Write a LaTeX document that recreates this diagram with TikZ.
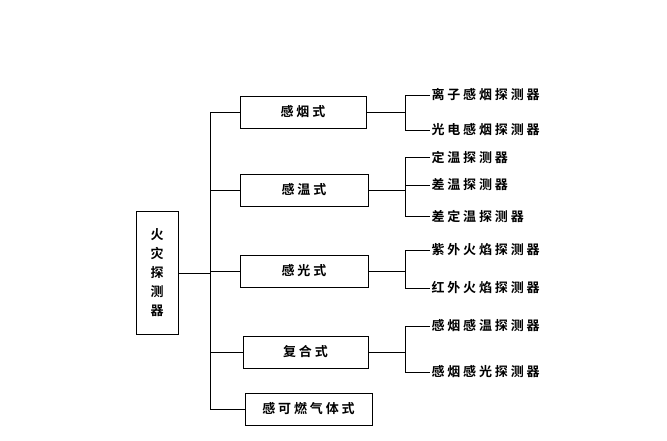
\documentclass[tikz,border=0pt]{standalone}
\usepackage{fontspec}
\setmainfont{Noto Sans CJK SC}[BoldFont={Noto Sans CJK SC Bold}]
\newfontfamily\spc{Noto Sans CJK SC Bold}[LetterSpace=22]
\begin{document}
\begin{tikzpicture}[x=1pt,y=-1pt,line width=1pt,
 box/.style={draw,minimum height=32pt,inner sep=0pt,font=\spc\fontsize{13}{15}\selectfont},
 leaf/.style={anchor=west,inner sep=1pt,font=\spc\fontsize{13}{14}\selectfont}]
\useasboundingbox (0,0) rectangle (667,440);
\node[draw,minimum width=42pt,minimum height=123pt,align=center,font=\bfseries\fontsize{13}{19}\selectfont] (root) at (157,273) {火\\灾\\探\\测\\器};
\node[box,minimum width=126pt] (a) at (303,112) {感烟式};
\node[box,minimum width=128pt] (b) at (304,190) {感温式};
\node[box,minimum width=128pt] (c) at (304,271) {感光式};
\node[box,minimum width=125pt] (d) at (305.5,352) {复合式};
\node[box,minimum width=127pt] (e) at (308.5,409) {感可燃气体式};
\coordinate (t) at (210,112); \coordinate (bt) at (210,409);
\draw (t) -- (bt);
\draw (root.east) -- (root.east -| t);
\foreach \n in {a,b,c,d,e} \draw (\n.west -| t) -- (\n.west);
\node[leaf] (a1) at (430,95) {离子感烟探测器};
\node[leaf] (a2) at (430,130) {光电感烟探测器};
\node[leaf] (b1) at (430,157) {定温探测器};
\node[leaf] (b2) at (430,185) {差温探测器};
\node[leaf] (b3) at (430,216) {差定温探测器};
\node[leaf] (c1) at (430,250) {紫外火焰探测器};
\node[leaf] (c2) at (430,288) {红外火焰探测器};
\node[leaf] (d1) at (430,326) {感烟感温探测器};
\node[leaf] (d2) at (430,372) {感烟感光探测器};
\foreach \p/\f/\l in {a/a1/a2,b/b1/b3,c/c1/c2,d/d1/d2}{
 \draw (\p.east) -- (405,0 |- \p.east);
 \draw (\f.west) -- (405,0 |- \f.west) -- (405,0 |- \l.west) -- (\l.west);
}
\draw (b2.west) -- (405,0 |- b2.west);
\end{tikzpicture}
\end{document}
